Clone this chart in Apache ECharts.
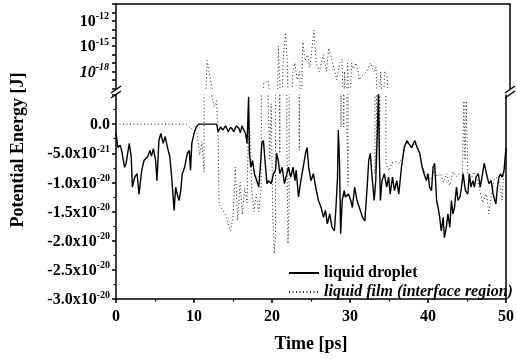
<!DOCTYPE html>
<html><head><meta charset="utf-8">
<script src="https://cdn.jsdelivr.net/npm/echarts@6/dist/echarts.min.js"></script>
<style>html,body{margin:0;padding:0;background:#fff}#c{width:517px;height:359px}</style>
</head><body><div id="c"></div>
<script>
// ---- data (time in ps, potential energy in J) ----
const dropletTime = [0,0.25,0.55,0.76,1.1,1.3,1.7,1.95,2.1,2.4,2.7,2.95,3.3,3.6,4.06,4.35,4.55,4.8,5.08,5.25,5.5,5.75,6.05,6.3,6.6,6.9,7.1,7.3,7.45,7.65,7.85,8.08,8.3,8.5,8.8,9.14,9.4,9.55,9.72,10.0,10.3,10.6,12.9,13.1,13.4,13.7,14.05,14.4,14.7,15.1,15.4,15.75,15.95,16.15,16.4,16.6,16.8,17.0,17.1,17.3,17.5,17.75,18.05,18.3,18.5,18.7,18.9,19.1,19.35,19.55,19.9,20.2,20.45,20.6,20.8,21.0,21.3,21.6,21.9,22.1,22.4,22.7,22.95,23.1,23.4,23.7,24.0,24.3,24.5,24.7,25.0,25.3,25.6,25.95,26.3,26.6,26.85,27.1,27.4,27.7,28.0,28.2,28.4,28.5,28.65,28.8,29.0,29.25,29.4,29.8,30.1,30.3,30.6,30.9,31.2,31.6,31.9,32.2,32.4,32.6,32.8,33.1,33.3,33.5,33.65,33.75,33.9,34.1,34.4,34.7,34.95,35.15,35.45,35.7,36.0,36.25,36.6,36.95,37.3,37.5,37.9,38.3,38.6,38.95,39.25,39.5,39.8,40.0,40.2,40.45,40.65,40.85,41.1,41.3,41.5,41.7,41.95,42.1,42.35,42.55,42.8,43.0,43.2,43.4,43.65,43.85,44.1,44.3,44.5,44.8,45.1,45.3,45.5,45.75,45.95,46.15,46.45,46.7,47.0,47.2,47.4,47.6,47.8,48.1,48.35,48.7,48.9,49.1,49.3,49.5,49.75,50.0];
const dropletEnergy = [-0.16e-20,-0.40e-20,-0.36e-20,-0.48e-20,-0.74e-20,-0.67e-20,-0.33e-20,-0.56e-20,-1.08e-20,-0.91e-20,-0.85e-20,-1.20e-20,-0.79e-20,-0.62e-20,-0.56e-20,-0.45e-20,-0.55e-20,-0.42e-20,-0.62e-20,-0.97e-20,-0.28e-20,-0.16e-20,-0.33e-20,-0.21e-20,-0.40e-20,-0.56e-20,-0.85e-20,-1.20e-20,-1.48e-20,-1.08e-20,-1.20e-20,-1.31e-20,-1.14e-20,-0.85e-20,-0.74e-20,-0.50e-20,-0.45e-20,-0.79e-20,-0.33e-20,-0.16e-20,-0.05e-20,0,0,-0.13e-20,-0.05e-20,-0.10e-20,-0.03e-20,-0.13e-20,-0.05e-20,-0.13e-20,-0.03e-20,-0.07e-20,-0.15e-20,-0.03e-20,-0.05e-20,-0.16e-20,-0.33e-20,0.47e-20,-0.50e-20,-0.74e-20,-0.62e-20,-0.85e-20,-0.97e-20,-1.08e-20,-0.74e-20,-0.33e-20,-0.28e-20,-0.62e-20,-1.02e-20,-0.97e-20,-1.02e-20,-0.85e-20,-0.79e-20,-0.50e-20,-0.62e-20,-0.85e-20,-0.74e-20,-1.02e-20,-0.85e-20,-0.74e-20,-0.91e-20,-0.74e-20,-0.97e-20,-0.79e-20,-1.25e-20,-0.97e-20,-0.74e-20,-0.50e-20,-0.40e-20,-0.74e-20,-0.97e-20,-0.85e-20,-1.08e-20,-1.31e-20,-1.43e-20,-1.60e-20,-1.48e-20,-1.71e-20,-1.54e-20,-1.77e-20,-1.83e-20,-1.43e-20,-0.91e-20,-0.10e-20,-0.62e-20,-1.88e-20,-1.31e-20,-1.14e-20,-1.25e-20,-1.20e-20,-1.31e-20,-1.43e-20,-1.08e-20,-1.31e-20,-1.43e-20,-1.60e-20,-1.66e-20,-1.08e-20,-0.62e-20,-0.50e-20,-0.85e-20,-1.31e-20,-0.97e-20,-0.16e-20,0.60e-20,-0.50e-20,-1.31e-20,-0.97e-20,-0.85e-20,-1.08e-20,-0.91e-20,-1.20e-20,-0.91e-20,-1.14e-20,-0.97e-20,-1.20e-20,-0.74e-20,-0.40e-20,-0.28e-20,-0.33e-20,-0.40e-20,-0.28e-20,-0.40e-20,-0.50e-20,-0.74e-20,-0.85e-20,-0.97e-20,-0.85e-20,-1.08e-20,-1.14e-20,-0.74e-20,-0.67e-20,-1.31e-20,-1.43e-20,-1.60e-20,-1.83e-20,-1.60e-20,-1.95e-20,-1.77e-20,-1.54e-20,-1.77e-20,-1.31e-20,-1.54e-20,-1.43e-20,-1.08e-20,-1.31e-20,-1.25e-20,-1.08e-20,-0.85e-20,-1.14e-20,-1.20e-20,-0.85e-20,-1.08e-20,-0.97e-20,-1.08e-20,-0.91e-20,-0.85e-20,-1.08e-20,-0.85e-20,-0.67e-20,-0.64e-20,-0.91e-20,-1.02e-20,-0.97e-20,-1.20e-20,-1.37e-20,-1.08e-20,-0.91e-20,-0.85e-20,-0.91e-20,-0.79e-20,-0.40e-20];

const filmTime = [0,9.0,9.4,10.0,10.4,10.7,11.0,11.3,11.55,11.8,12.0,12.3,12.6,12.9,13.1,13.2,13.3,13.7,14.1,14.3,14.5,14.7,15.0,15.3,15.6,15.9,16.2,16.5,16.8,17.0,17.2,17.4,17.7,18.0,18.3,18.6,18.75,19.0,19.3,19.5,19.7,19.9,20.1,20.3,20.45,20.6,20.75,21.0,21.2,21.5,21.75,21.9,22.05,22.2,22.45,22.7,23.0,23.3,23.5,23.7,24.0,24.3,24.6,24.9,25.1,25.4,25.8,26.3,26.7,27.0,27.5,28.0,28.4,28.7,28.85,29.0,29.2,29.4,29.6,29.75,29.9,30.1,30.5,30.9,31.2,31.8,32.3,32.7,33.0,33.2,33.4,33.6,33.8,34.1,34.4,34.6,35.0,35.4,35.8,36.3,36.8,37.2,37.6,38.0,38.4,38.8,39.2,39.6,40.0,40.4,40.8,41.2,41.6,42.0,42.4,42.8,43.2,43.6,44.0,44.4,44.6,44.75,44.9,45.1,45.5,45.9,46.2,46.6,47.0,47.5,47.8,48.1,48.5,48.9,49.2,49.5,49.7,50.0];
const filmEnergy = [0,0,-0.05e-20,-0.10e-20,-0.16e-20,-0.53e-20,-0.30e-20,-0.82e-20,2e-17,1e-18,1e-19,0.45e-20,0.30e-20,0.40e-20,-0.20e-20,-1.30e-20,-1.40e-20,-1.48e-20,-1.57e-20,-1.66e-20,-1.77e-20,-1.83e-20,-1.60e-20,-0.74e-20,-1.65e-20,-1.00e-20,-1.55e-20,-1.10e-20,-1.35e-20,0.25e-20,-0.20e-20,-1.10e-20,-1.50e-20,-1.20e-20,-1.50e-20,-1.10e-20,5e-20,3e-20,8e-20,0.45e-20,-0.60e-20,0.35e-20,-1.60e-20,-2.22e-20,-1.90e-20,1e-15,3e-19,-0.50e-20,1e-17,4e-14,1e-17,-0.30e-20,-2.05e-20,-1.40e-20,1e-18,1e-17,1e-19,1e-18,-0.45e-20,3e-15,2e-17,1e-16,3e-18,1e-15,8e-14,1e-17,1e-18,1e-16,1e-18,6e-16,1e-17,1e-19,1e-17,3e-17,-0.05e-20,1e-18,-0.05e-20,1e-17,-0.05e-20,-1.05e-20,1e-17,2e-18,1e-17,1e-19,3e-19,1e-18,1e-17,1e-18,3e-18,-0.85e-20,-0.30e-20,1e-18,-0.50e-20,1e-18,3e-19,-0.67e-20,-0.80e-20,-0.66e-20,-0.64e-20,-0.67e-20,-0.55e-20,-0.30e-20,-0.35e-20,-0.40e-20,-0.30e-20,-0.45e-20,-0.70e-20,-0.82e-20,-0.90e-20,-0.95e-20,-0.80e-20,-0.90e-20,-0.85e-20,-1.00e-20,-0.85e-20,-1.05e-20,-0.82e-20,-0.90e-20,-0.85e-20,-0.88e-20,0.40e-20,-0.62e-20,0.40e-20,-0.85e-20,-0.95e-20,-0.82e-20,-0.90e-20,-1.10e-20,-1.35e-20,-1.20e-20,-1.54e-20,-1.25e-20,-0.95e-20,-0.90e-20,-1.00e-20,-1.30e-20,-0.85e-20,-0.70e-20];

// tick labels
const timeTickLabels = ['0','10','20','30','40','50'];
// lower (linear) panel ticks, in units of 1e-20 J
const energyTickValues = [0.5, 0, -0.5, -1.0, -1.5, -2.0, -2.5, -3.0];
const energyTickMantissa = ['', '0.0', '-5.0x10', '-1.0x10', '-1.5x10', '-2.0x10', '-2.5x10', '-3.0x10'];
const energyTickExponent = ['', '', '-21', '-20', '-20', '-20', '-20', '-20'];
// upper (log) panel labelled decades
const logTickExponents = [-12, -15, -18];
const logTickItalic = [false, false, true];

const seriesNames = ['liquid droplet', 'liquid film (interface region)'];

// ---- chart ----
const FONT = "'Liberation Serif','Times New Roman',serif";
const LOWER_UNIT = 1e-20;  // lower panel axis unit (J)
const LOWER_CAP = 100;     // lower-panel values above this (in units) are far off the top and clipped
const TOP_FLOOR = 1e-24;   // non-positive values sit below the log panel and are clipped
const BLACK = '#000';

const dropletData = dropletTime.map((t, i) => [t, dropletEnergy[i] / LOWER_UNIT]);
const filmLower = filmTime.map((t, i) => [t, Math.min(filmEnergy[i] / LOWER_UNIT, LOWER_CAP)]);
const filmUpper = filmTime.map((t, i) => [t, filmEnergy[i] > 0 ? filmEnergy[i] : TOP_FLOOR]);

const richTick = {
  m: {fontSize: 16, fontWeight: 'bold', fontFamily: FONT, color: BLACK, lineHeight: 18, verticalAlign: 'bottom'},
  s: {fontSize: 10, fontWeight: 'bold', fontFamily: FONT, color: BLACK, verticalAlign: 'top'},
  mi: {fontSize: 16, fontWeight: 'bold', fontStyle: 'italic', fontFamily: FONT, color: BLACK, lineHeight: 18, verticalAlign: 'bottom'},
  si: {fontSize: 10, fontWeight: 'bold', fontStyle: 'italic', fontFamily: FONT, color: BLACK, verticalAlign: 'top'}
};

const axisLineStyle = {show: true, onZero: false, lineStyle: {color: BLACK, width: 1.5}};
const tickStyle = {show: true, length: 4, lineStyle: {color: BLACK, width: 1.5}};
const minorTickStyle = {show: true, splitNumber: 2, length: 2.5, lineStyle: {color: BLACK, width: 1.2}};

const chart = echarts.init(document.getElementById('c'), null, {renderer: 'canvas'});
chart.setOption({
  animation: false,
  backgroundColor: '#fff',
  grid: [
    {left: 116, right: 7, top: 4, height: 84.4},
    {left: 116, right: 7, top: 95, height: 204}
  ],
  xAxis: [
    {gridIndex: 0, type: 'value', min: 0, max: 50, interval: 10, position: 'top',
     axisLine: axisLineStyle, axisTick: {show: false}, axisLabel: {show: false}, splitLine: {show: false}},
    {gridIndex: 1, type: 'value', min: 0, max: 50, interval: 10, position: 'bottom',
     axisLine: axisLineStyle, axisTick: tickStyle, minorTick: minorTickStyle, splitLine: {show: false},
     axisLabel: {margin: 10, fontSize: 16, fontWeight: 'bold', fontFamily: FONT, color: BLACK,
       formatter: v => { const i = Math.round(v / 10); return timeTickLabels[i] != null ? timeTickLabels[i] : ''; }},
     name: 'Time [ps]', nameLocation: 'middle', nameGap: 36,
     nameTextStyle: {fontSize: 18, fontWeight: 'bold', fontFamily: FONT, color: BLACK}}
  ],
  yAxis: [
    {gridIndex: 0, type: 'log', logBase: 10, min: 1e-20, max: 1e-10, interval: 1,
     axisLine: axisLineStyle, axisTick: tickStyle, splitLine: {show: false}, minorTick: {show: false},
     axisLabel: {margin: 7, rich: richTick,
       formatter: v => {
         const e = Math.round(Math.log10(v));
         const k = logTickExponents.indexOf(e);
         if (k < 0) return '';
         return logTickItalic[k] ? '{mi|10}{si|' + e + '}' : '{m|10}{s|' + e + '}';
       }}},
    {gridIndex: 0, type: 'log', logBase: 10, min: 1e-20, max: 1e-10, position: 'right',
     axisLine: axisLineStyle, axisTick: {show: false}, axisLabel: {show: false}, splitLine: {show: false}},
    {gridIndex: 1, type: 'value', min: -3.0, max: 0.5, interval: 0.5,
     axisLine: axisLineStyle, axisTick: tickStyle, minorTick: minorTickStyle, splitLine: {show: false},
     axisLabel: {margin: 6, rich: richTick,
       formatter: v => {
         let k = -1;
         energyTickValues.forEach((tv, i) => { if (Math.abs(tv - v) < 1e-6) k = i; });
         if (k < 0 || !energyTickMantissa[k]) return '';
         return '{m|' + energyTickMantissa[k] + '}' + (energyTickExponent[k] ? '{s|' + energyTickExponent[k] + '}' : '');
       }}},
    {gridIndex: 1, type: 'value', min: -3.0, max: 0.5, position: 'right',
     axisLine: axisLineStyle, axisTick: {show: false}, axisLabel: {show: false}, splitLine: {show: false}}
  ],
  legend: {
    orient: 'vertical', left: 283, top: 260, itemWidth: 30, itemHeight: 14, itemGap: 3,
    itemStyle: {opacity: 0},
    textStyle: {fontSize: 16, fontWeight: 'bold', fontFamily: FONT, color: BLACK},
    data: [
      {name: seriesNames[0], textStyle: {fontStyle: 'normal'}},
      {name: seriesNames[1], textStyle: {fontStyle: 'italic'}}
    ]
  },
  series: [
    {name: seriesNames[0], type: 'line', xAxisIndex: 1, yAxisIndex: 2, data: dropletData,
     showSymbol: false, symbol: 'none', clip: true, z: 3, color: BLACK,
     itemStyle: {color: BLACK}, lineStyle: {color: BLACK, width: 1.4}},
    {name: seriesNames[1], type: 'line', xAxisIndex: 1, yAxisIndex: 2, data: filmLower,
     showSymbol: false, symbol: 'none', clip: true, z: 2, color: '#222',
     itemStyle: {color: '#222'}, lineStyle: {color: '#222', width: 1, type: [1, 2.5]}},
    {name: seriesNames[1], type: 'line', xAxisIndex: 0, yAxisIndex: 0, data: filmUpper,
     showSymbol: false, symbol: 'none', clip: true, z: 2, color: '#222',
     itemStyle: {color: '#222'}, lineStyle: {color: '#222', width: 1, type: [1, 2.5]}}
  ],
  graphic: [
    {type: 'text', x: 18, y: 150, rotation: Math.PI / 2,
     style: {text: 'Potential Energy [J]', font: 'bold 18px ' + FONT, fill: BLACK, align: 'center', verticalAlign: 'middle'}},
    {type: 'line', shape: {x1: 111, y1: 93, x2: 121, y2: 86}, style: {stroke: BLACK, lineWidth: 1.5}},
    {type: 'line', shape: {x1: 111, y1: 98, x2: 121, y2: 91}, style: {stroke: BLACK, lineWidth: 1.5}},
    {type: 'line', shape: {x1: 505, y1: 93, x2: 515, y2: 86}, style: {stroke: BLACK, lineWidth: 1.5}},
    {type: 'line', shape: {x1: 505, y1: 98, x2: 515, y2: 91}, style: {stroke: BLACK, lineWidth: 1.5}}
  ]
});
</script></body></html>
